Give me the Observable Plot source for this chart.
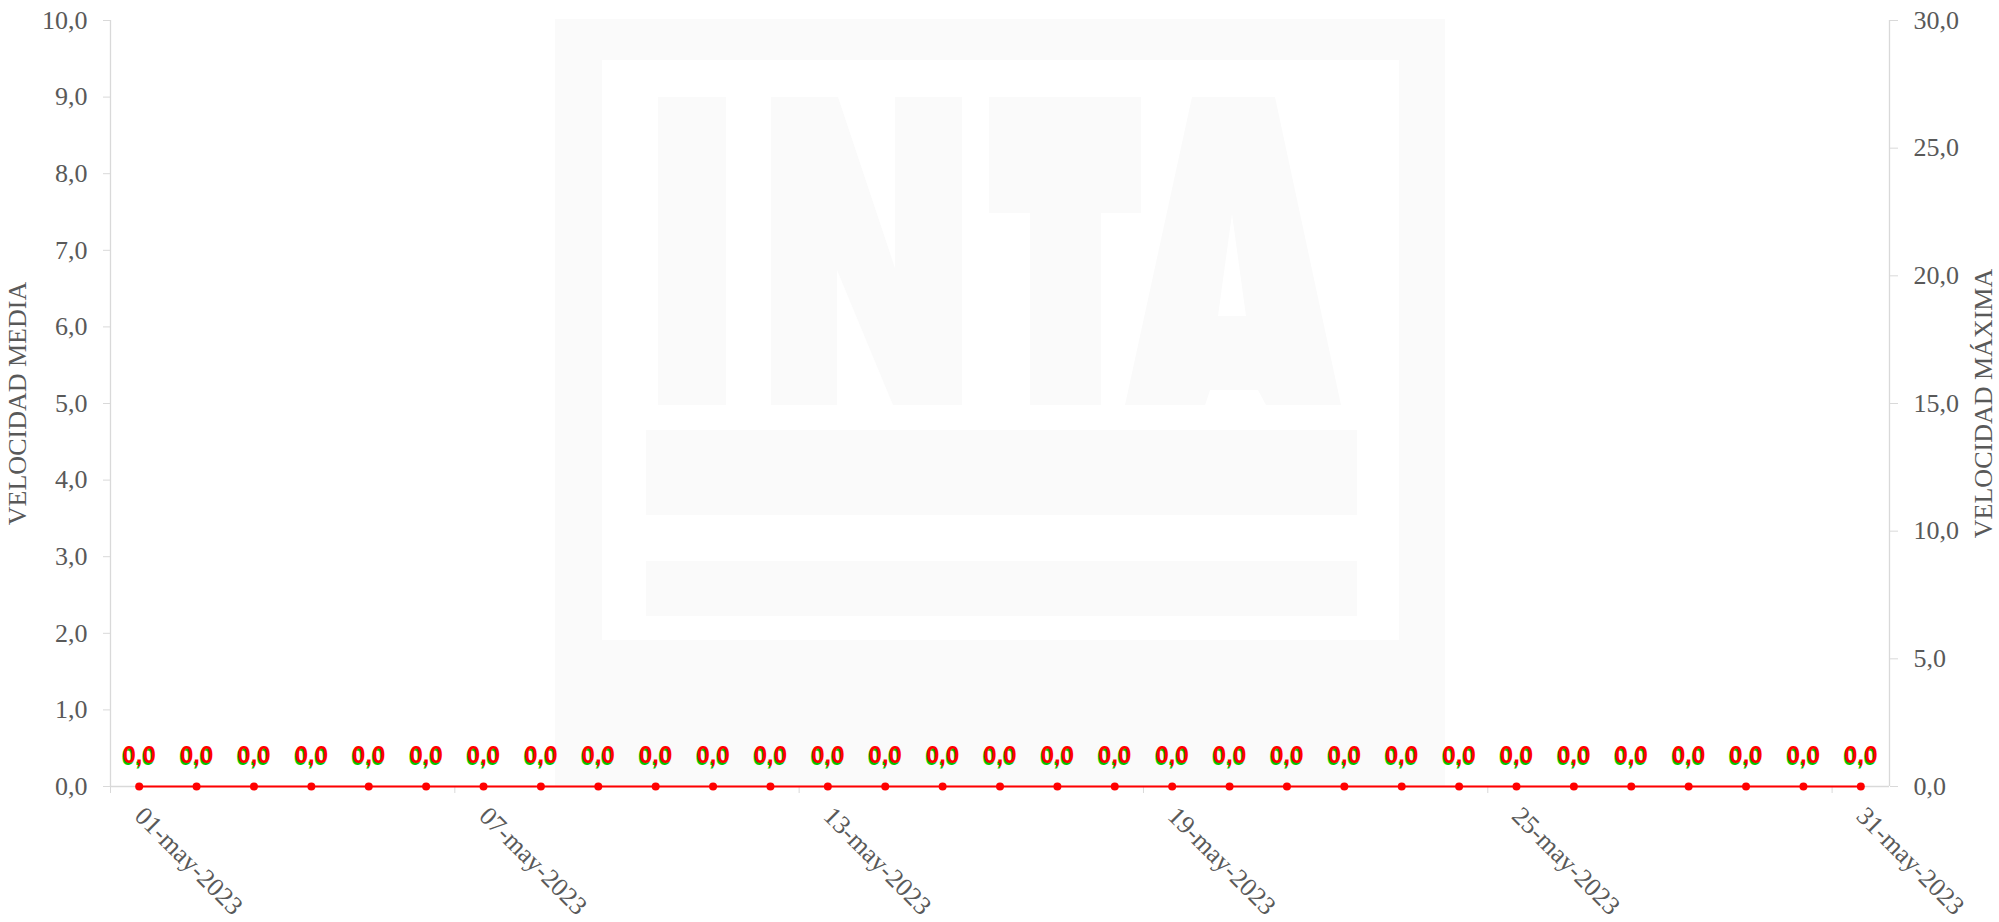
<!DOCTYPE html>
<html>
<head>
<meta charset="utf-8">
<script src="https://cdn.jsdelivr.net/npm/d3@7"></script>
<script src="https://cdn.jsdelivr.net/npm/@observablehq/plot@0.6"></script>
<style>
  html, body { margin: 0; padding: 0; background: #ffffff; }
  #chart { width: 1999px; height: 922px; }
</style>
</head>
<body>
<div id="chart"></div>
<script>
// ---- data ----
const fechas = [
  "01-may-2023","02-may-2023","03-may-2023","04-may-2023","05-may-2023","06-may-2023",
  "07-may-2023","08-may-2023","09-may-2023","10-may-2023","11-may-2023","12-may-2023",
  "13-may-2023","14-may-2023","15-may-2023","16-may-2023","17-may-2023","18-may-2023",
  "19-may-2023","20-may-2023","21-may-2023","22-may-2023","23-may-2023","24-may-2023",
  "25-may-2023","26-may-2023","27-may-2023","28-may-2023","29-may-2023","30-may-2023",
  "31-may-2023"
];
const velocidadMedia = [
  0,0,0,0,0,0,0,0,0,0,0,0,0,0,0,0,0,0,0,0,0,0,0,0,0,0,0,0,0,0,0
];
const velocidadMaxima = [
  0,0,0,0,0,0,0,0,0,0,0,0,0,0,0,0,0,0,0,0,0,0,0,0,0,0,0,0,0,0,0
];
const ticksMedia = [0,1,2,3,4,5,6,7,8,9,10];
const ticksMaxima = [0,5,10,15,20,25,30];
const fechasEtiquetadas = ["01-may-2023","07-may-2023","13-may-2023","19-may-2023","25-may-2023","31-may-2023"];
const tituloIzq = "VELOCIDAD MEDIA";
const tituloDer = "VELOCIDAD MÁXIMA";
const maxMedia = 10;
const maxMaxima = 30;

// ---- derived ----
const ratio = maxMaxima / maxMedia;
const fmt = v => (Math.round(v * 10) / 10).toFixed(1).replace(".", ",");
const filas = fechas.map((f, i) => ({i, fecha: f, media: velocidadMedia[i], maxima: velocidadMaxima[i]}));
const idxEtiq = fechasEtiquetadas.map(f => fechas.indexOf(f));
const bordes = idxEtiq.map(i => i - 0.5);

const GRIS = "#d9d9d9";
const TEXTO = "#595959";
const ROJO = "#ff0000";
const VERDE = "#00c800";
const SERIF = "'Liberation Serif', 'Times New Roman', serif";
const SANS = "'Liberation Sans', Arial, sans-serif";

const plot = Plot.plot({
  width: 1999,
  height: 922,
  marginLeft: 110,
  marginRight: 110,
  marginTop: 20,
  marginBottom: 136,
  style: {fontFamily: SERIF, fontSize: "26px", color: TEXTO, background: "transparent", overflow: "visible"},
  x: {domain: [-0.5, fechas.length - 0.5], axis: null, label: null},
  y: {domain: [0, maxMedia], axis: null, label: null},
  marks: [
    Plot.ruleX([-0.5, fechas.length - 0.5], {stroke: GRIS, strokeWidth: 1.3}),
    Plot.ruleY([0], {stroke: GRIS, strokeWidth: 1.3}),
    Plot.axisY(ticksMedia, {anchor: "left", tickSize: 7, tickPadding: 16, tickFormat: fmt,
      stroke: GRIS, fill: TEXTO, label: null, fontSize: 26}),
    Plot.axisY(ticksMaxima.map(v => v / ratio), {anchor: "right", tickSize: 8, tickPadding: 16,
      tickFormat: d => fmt(d * ratio), stroke: GRIS, fill: TEXTO, label: null, fontSize: 26}),
    Plot.axisX(bordes, {anchor: "bottom", tickSize: 7, stroke: GRIS, fill: "none", label: null}),
    Plot.axisX(idxEtiq, {anchor: "bottom", tickSize: 0, tickPadding: 25, tickRotate: 45,
      tickFormat: i => fechas[i], fill: TEXTO, label: null, fontSize: 26}),
    Plot.text([tituloIzq], {frameAnchor: "left", dx: -93, rotate: -90, fill: TEXTO,
      fontSize: 26, fontFamily: SERIF, textAnchor: "middle", lineAnchor: "middle"}),
    Plot.text([tituloDer], {frameAnchor: "right", dx: 94, rotate: -90, fill: TEXTO,
      fontSize: 26, fontFamily: SERIF, textAnchor: "middle", lineAnchor: "middle"}),
    Plot.line(filas, {x: "i", y: d => d.maxima / ratio, stroke: ROJO, strokeWidth: 2}),
    Plot.dot(filas, {x: "i", y: d => d.maxima / ratio, r: 4, fill: ROJO, stroke: "none"}),
    Plot.text(filas, {x: "i", y: "media", text: d => fmt(d.media), dy: -29, dx: -1, fill: VERDE,
      fontSize: 24, fontWeight: "bold", fontFamily: SANS, lineAnchor: "middle"}),
    Plot.text(filas, {x: "i", y: d => d.maxima / ratio, text: d => fmt(d.maxima), dy: -31, fill: ROJO,
      fontSize: 24, fontWeight: "bold", fontFamily: SANS, lineAnchor: "middle"})
  ]
});

document.getElementById("chart").appendChild(plot);

// ---- faint INTA watermark behind the chart (decoration) ----
const LOGO = "#fafafa";
const svg = d3.select(plot.tagName.toLowerCase() === "svg" ? plot : plot.querySelector("svg"));
const wm = svg.insert("g", ":first-child").attr("class", "watermark");
wm.append("rect").attr("x", 555).attr("y", 19).attr("width", 890).attr("height", 767).attr("fill", LOGO);
wm.append("rect").attr("x", 602).attr("y", 60).attr("width", 797).attr("height", 580).attr("fill", "#ffffff");
const logoPaths = [
  "M658,97H726V405H658Z",
  "M771,97H838L895,268V97H962V405H893L837,270V405H771Z",
  "M989,97H1141V213H1101V405H1030V213H989Z",
  "M1125,405L1192,97H1275L1341,405H1266L1258,390H1210L1205,405Z M1232,214L1218,316H1246Z",
  "M646,430H1357V515H646Z",
  "M646,561H1357V616H646Z"
];
logoPaths.forEach(p => wm.append("path").attr("d", p).attr("fill", LOGO).attr("fill-rule", "evenodd"));
</script>
</body>
</html>
